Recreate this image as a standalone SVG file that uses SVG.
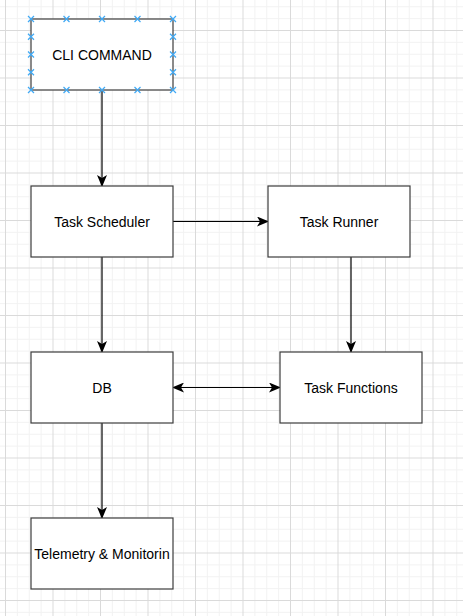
<svg xmlns="http://www.w3.org/2000/svg" width="463" height="616" viewBox="0 0 463 616">
  <style>
    .box { fill: #ffffff; stroke: #3c3c3c; stroke-width: 1.2; }
    .lbl { font-family: "Liberation Sans", Arial, sans-serif; font-size: 14px; fill: #000000; text-anchor: middle; }
    .edge { fill: none; stroke: #000000; stroke-width: 1.2; }
    .hdl { stroke: #3fa9f5; stroke-width: 1.2; fill: none; }
  </style>
  <defs>
    <pattern id="grid" patternUnits="userSpaceOnUse" x="5" y="30" width="47.5" height="47.5">
      <rect x="11.875" y="0" width="1" height="47.5" fill="#f2f2f2"/>
      <rect x="23.75" y="0" width="1" height="47.5" fill="#f2f2f2"/>
      <rect x="35.625" y="0" width="1" height="47.5" fill="#f2f2f2"/>
      <rect x="0" y="11.875" width="47.5" height="1" fill="#f2f2f2"/>
      <rect x="0" y="23.75" width="47.5" height="1" fill="#f2f2f2"/>
      <rect x="0" y="35.625" width="47.5" height="1" fill="#f2f2f2"/>
      <rect x="0" y="0" width="1" height="47.5" fill="#dadada"/>
      <rect x="0" y="0" width="47.5" height="1" fill="#dadada"/>
    </pattern>
    <marker id="arr" viewBox="0 0 12 10" refX="11" refY="5" markerWidth="12" markerHeight="10" markerUnits="userSpaceOnUse" orient="auto-start-reverse">
      <path d="M0,0 L12,5 L0,10 L3,5 Z" fill="#000000"/>
    </marker>
    <path id="x" d="M-3,-3 L3,3 M-3,3 L3,-3"/>
  </defs>
  <rect x="0" y="0" width="463" height="616" fill="#ffffff"/>
  <rect x="0" y="0" width="463" height="616" fill="url(#grid)"/>

  <g id="connectors">
    <line class="edge" x1="102" y1="90" x2="102" y2="186" marker-end="url(#arr)"/>
    <line class="edge" x1="173" y1="221.5" x2="268" y2="221.5" marker-end="url(#arr)"/>
    <line class="edge" x1="102" y1="257" x2="102" y2="352" marker-end="url(#arr)"/>
    <line class="edge" x1="351" y1="257" x2="351" y2="352" marker-end="url(#arr)"/>
    <line class="edge" x1="173" y1="387.5" x2="280" y2="387.5" marker-start="url(#arr)" marker-end="url(#arr)"/>
    <line class="edge" x1="102" y1="423" x2="102" y2="518" marker-end="url(#arr)"/>
  </g>

  <g id="cli-command">
    <rect class="box" x="31" y="19" width="142" height="71"/>
    <text class="lbl" x="102" y="59.5">CLI COMMAND</text>
    <g class="hdl">
      <use href="#x" x="31" y="19"/><use href="#x" x="66.5" y="19"/><use href="#x" x="102" y="19"/><use href="#x" x="137.5" y="19"/><use href="#x" x="173" y="19"/>
      <use href="#x" x="31" y="90"/><use href="#x" x="66.5" y="90"/><use href="#x" x="102" y="90"/><use href="#x" x="137.5" y="90"/><use href="#x" x="173" y="90"/>
      <use href="#x" x="31" y="36.75"/><use href="#x" x="31" y="54.5"/><use href="#x" x="31" y="72.25"/>
      <use href="#x" x="173" y="36.75"/><use href="#x" x="173" y="54.5"/><use href="#x" x="173" y="72.25"/>
    </g>
  </g>

  <g id="task-scheduler">
    <rect class="box" x="31" y="186" width="142" height="71"/>
    <text class="lbl" x="102" y="226.5">Task Scheduler</text>
  </g>

  <g id="task-runner">
    <rect class="box" x="268" y="186" width="142" height="71"/>
    <text class="lbl" x="339" y="226.5">Task Runner</text>
  </g>

  <g id="db">
    <rect class="box" x="31" y="352" width="142" height="71"/>
    <text class="lbl" x="102" y="392.5">DB</text>
  </g>

  <g id="task-functions">
    <rect class="box" x="280" y="352" width="142" height="71"/>
    <text class="lbl" x="351" y="392.5">Task Functions</text>
  </g>

  <g id="telemetry">
    <rect class="box" x="31" y="518" width="142" height="71"/>
    <text class="lbl" x="102" y="558.5">Telemetry &amp; Monitorin</text>
  </g>
</svg>
